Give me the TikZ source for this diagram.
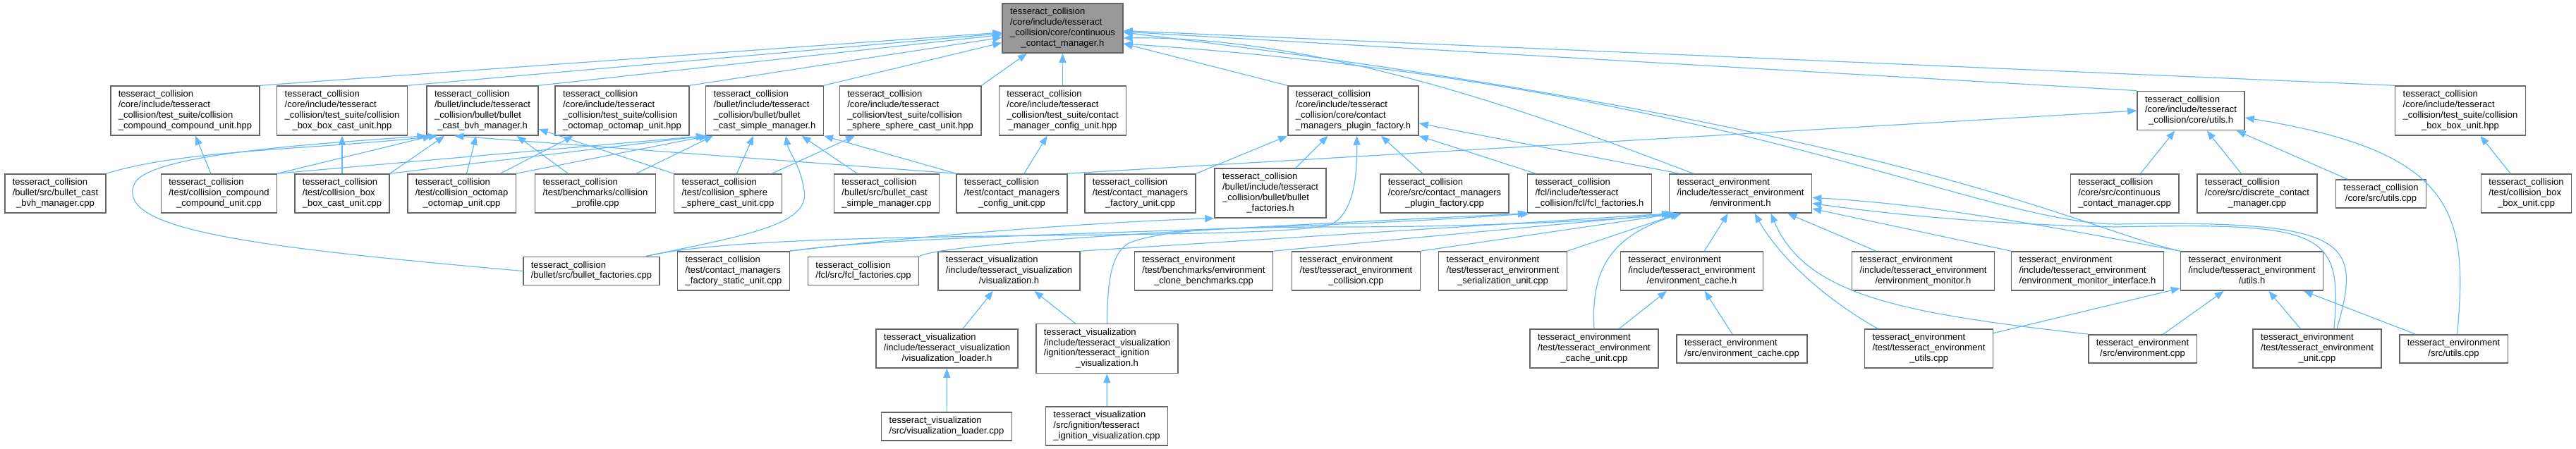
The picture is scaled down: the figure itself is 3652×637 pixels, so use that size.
\documentclass[tikz,border=0pt]{standalone}
\usepackage{fontspec}
\setmainfont{Liberation Sans}
\usetikzlibrary{arrows.meta}
\definecolor{edgeblue}{HTML}{63B8FF}
\definecolor{boxgray}{HTML}{666666}
\definecolor{rootgray}{HTML}{999999}
% file label: lines left aligned, last line centred
\newcommand{\doxlbl}[2]{\begin{tabular}{@{}l@{}}#1\\\multicolumn{1}{@{}c@{}}{#2}\end{tabular}}
\begin{document}
\begin{tikzpicture}[x=1pt,y=-1pt,
  incbox/.style={draw=boxgray,line width=1.5pt,fill=white,inner xsep=11pt,inner ysep=5.4pt,
    font=\fontsize{13}{14.8}\selectfont},
  rootbox/.style={incbox,fill=rootgray},
  incl/.style={draw=edgeblue,line width=1.2pt,-{Triangle[length=13pt,width=10pt]}}]
\useasboundingbox (0,0) rectangle (3652,637);
\node[rootbox] (ccmh) at (1506.5,40) {\doxlbl{tesseract\_collision\\/core/include/tesseract\\\_collision/core/continuous}{\_contact\_manager.h}};
% row 2
\node[incbox] (ccuhpp) at (262.5,157) {\doxlbl{tesseract\_collision\\/core/include/tesseract\\\_collision/test\_suite/collision}{\_compound\_compound\_unit.hpp}};
\node[incbox] (bbcuhpp) at (485,157) {\doxlbl{tesseract\_collision\\/core/include/tesseract\\\_collision/test\_suite/collision}{\_box\_box\_cast\_unit.hpp}};
\node[incbox] (bvhh) at (684,157) {\doxlbl{tesseract\_collision\\/bullet/include/tesseract\\\_collision/bullet/bullet}{\_cast\_bvh\_manager.h}};
\node[incbox] (octohpp) at (882,157) {\doxlbl{tesseract\_collision\\/core/include/tesseract\\\_collision/test\_suite/collision}{\_octomap\_octomap\_unit.hpp}};
\node[incbox] (simpleh) at (1084,157) {\doxlbl{tesseract\_collision\\/bullet/include/tesseract\\\_collision/bullet/bullet}{\_cast\_simple\_manager.h}};
\node[incbox] (spherehpp) at (1290.5,157) {\doxlbl{tesseract\_collision\\/core/include/tesseract\\\_collision/test\_suite/collision}{\_sphere\_sphere\_cast\_unit.hpp}};
\node[incbox] (cfghpp) at (1506.5,157) {\doxlbl{tesseract\_collision\\/core/include/tesseract\\\_collision/test\_suite/contact}{\_manager\_config\_unit.hpp}};
\node[incbox] (pluginh) at (1918.5,157) {\doxlbl{tesseract\_collision\\/core/include/tesseract\\\_collision/core/contact}{\_managers\_plugin\_factory.h}};
\node[incbox] (cutilsh) at (3106,157) {\doxlbl{tesseract\_collision\\/core/include/tesseract}{\_collision/core/utils.h}};
\node[incbox] (bbuhpp) at (3488,157) {\doxlbl{tesseract\_collision\\/core/include/tesseract\\\_collision/test\_suite/collision}{\_box\_box\_unit.hpp}};
% row 3
\node[incbox] (bvhcpp) at (78.5,274.5) {\doxlbl{tesseract\_collision\\/bullet/src/bullet\_cast}{\_bvh\_manager.cpp}};
\node[incbox] (ccucpp) at (310.5,274.5) {\doxlbl{tesseract\_collision\\/test/collision\_compound}{\_compound\_unit.cpp}};
\node[incbox] (bbcucpp) at (485,274.5) {\doxlbl{tesseract\_collision\\/test/collision\_box}{\_box\_cast\_unit.cpp}};
\node[incbox] (octocpp) at (654.5,274.5) {\doxlbl{tesseract\_collision\\/test/collision\_octomap}{\_octomap\_unit.cpp}};
\node[incbox] (profilecpp) at (844,274.5) {\doxlbl{tesseract\_collision\\/test/benchmarks/collision}{\_profile.cpp}};
\node[incbox] (spherecpp) at (1032,274.5) {\doxlbl{tesseract\_collision\\/test/collision\_sphere}{\_sphere\_cast\_unit.cpp}};
\node[incbox] (simplecpp) at (1257,274.5) {\doxlbl{tesseract\_collision\\/bullet/src/bullet\_cast}{\_simple\_manager.cpp}};
\node[incbox] (cfgcpp) at (1434.5,274.5) {\doxlbl{tesseract\_collision\\/test/contact\_managers}{\_config\_unit.cpp}};
\node[incbox] (factorycpp) at (1616.5,274.5) {\doxlbl{tesseract\_collision\\/test/contact\_managers}{\_factory\_unit.cpp}};
\node[incbox] (bfacth) at (1801,274) {\doxlbl{tesseract\_collision\\/bullet/include/tesseract\\\_collision/bullet/bullet}{\_factories.h}};
\node[incbox] (plugincpp) at (2048,274.5) {\doxlbl{tesseract\_collision\\/core/src/contact\_managers}{\_plugin\_factory.cpp}};
\node[incbox] (fclfh) at (2253.5,274.5) {\doxlbl{tesseract\_collision\\/fcl/include/tesseract}{\_collision/fcl/fcl\_factories.h}};
\node[incbox] (envh) at (2467.5,274.5) {\doxlbl{tesseract\_environment\\/include/tesseract\_environment}{/environment.h}};
\node[incbox] (ccmcpp) at (3012,274.5) {\doxlbl{tesseract\_collision\\/core/src/continuous}{\_contact\_manager.cpp}};
\node[incbox] (dcmcpp) at (3200,274.5) {\doxlbl{tesseract\_collision\\/core/src/discrete\_contact}{\_manager.cpp}};
\node[incbox] (cutilscpp) at (3375.5,275) {\doxlbl{tesseract\_collision}{/core/src/utils.cpp}};
\node[incbox] (bbucpp) at (3581.5,274.5) {\doxlbl{tesseract\_collision\\/test/collision\_box}{\_box\_unit.cpp}};
% row 4
\node[incbox] (bfactcpp) at (838.5,384.5) {\doxlbl{tesseract\_collision}{/bullet/src/bullet\_factories.cpp}};
\node[incbox] (staticcpp) at (1040,384.5) {\doxlbl{tesseract\_collision\\/test/contact\_managers}{\_factory\_static\_unit.cpp}};
\node[incbox] (fclfcpp) at (1224,384.5) {\doxlbl{tesseract\_collision}{/fcl/src/fcl\_factories.cpp}};
\node[incbox] (vish) at (1430.5,384.5) {\doxlbl{tesseract\_visualization\\/include/tesseract\_visualization}{/visualization.h}};
\node[incbox] (clonecpp) at (1706.5,384.5) {\doxlbl{tesseract\_environment\\/test/benchmarks/environment}{\_clone\_benchmarks.cpp}};
\node[incbox] (collcpp) at (1922.5,384.5) {\doxlbl{tesseract\_environment\\/test/tesseract\_environment}{\_collision.cpp}};
\node[incbox] (sercpp) at (2130.5,384.5) {\doxlbl{tesseract\_environment\\/test/tesseract\_environment}{\_serialization\_unit.cpp}};
\node[incbox] (cacheh) at (2398.5,384.5) {\doxlbl{tesseract\_environment\\/include/tesseract\_environment}{/environment\_cache.h}};
\node[incbox] (monitorh) at (2726.5,384.5) {\doxlbl{tesseract\_environment\\/include/tesseract\_environment}{/environment\_monitor.h}};
\node[incbox] (monifh) at (2959.5,384.5) {\doxlbl{tesseract\_environment\\/include/tesseract\_environment}{/environment\_monitor\_interface.h}};
\node[incbox] (eutilsh) at (3192.5,384.5) {\doxlbl{tesseract\_environment\\/include/tesseract\_environment}{/utils.h}};
% row 5
\node[incbox] (visloadh) at (1342.5,494.5) {\doxlbl{tesseract\_visualization\\/include/tesseract\_visualization}{/visualization\_loader.h}};
\node[incbox] (ignvish) at (1569.5,494.5) {\doxlbl{tesseract\_visualization\\/include/tesseract\_visualization\\/ignition/tesseract\_ignition}{\_visualization.h}};
\node[incbox] (cacheunitcpp) at (2260,494.5) {\doxlbl{tesseract\_environment\\/test/tesseract\_environment}{\_cache\_unit.cpp}};
\node[incbox] (cachecpp) at (2469.5,495) {\doxlbl{tesseract\_environment}{/src/environment\_cache.cpp}};
\node[incbox] (eutilstestcpp) at (2734.5,494.5) {\doxlbl{tesseract\_environment\\/test/tesseract\_environment}{\_utils.cpp}};
\node[incbox] (envcpp) at (3037.5,495) {\doxlbl{tesseract\_environment}{/src/environment.cpp}};
\node[incbox] (envunitcpp) at (3285,494.5) {\doxlbl{tesseract\_environment\\/test/tesseract\_environment}{\_unit.cpp}};
\node[incbox] (eutilscpp) at (3478.5,495) {\doxlbl{tesseract\_environment}{/src/utils.cpp}};
% row 6
\node[incbox] (visloadcpp) at (1342,605) {\doxlbl{tesseract\_visualization}{/src/visualization\_loader.cpp}};
\node[incbox] (ignviscpp) at (1569,604.5) {\doxlbl{tesseract\_visualization\\/src/ignition/tesseract}{\_ignition\_visualization.cpp}};
% into continuous_contact_manager.h
\draw[incl] (ccuhpp.north east) -- (ccmh);
\draw[incl] (bbcuhpp.north east) -- (ccmh);
\draw[incl] (bvhh.north east) -- (ccmh);
\draw[incl] (octohpp.north east) -- (ccmh);
\draw[incl] (simpleh.north east) -- (ccmh);
\draw[incl] (spherehpp.north east) -- (ccmh);
\draw[incl] (cfghpp) -- (ccmh);
\draw[incl] (pluginh.north west) -- (ccmh);
\draw[incl] ([xshift=35pt]envh.north west) .. controls (2250,190) and (1900,50) .. ([yshift=-14pt]ccmh.east);
\draw[incl] (cutilsh.north west) -- (ccmh);
\draw[incl] (bbuhpp.north west) -- (ccmh);
\draw[incl] (eutilsh.north west) .. controls (2950,325) and (2700,180) .. ([yshift=-6pt]ccmh.east);
\draw[incl] ([xshift=28pt]envunitcpp.north) .. controls (3350,340) and (3330,312) .. (3000,318) .. controls (2800,315) and (2450,120) .. ([yshift=-22pt]ccmh.east);
% core utils and box_box
\draw[incl] (ccmcpp) -- (cutilsh);
\draw[incl] (dcmcpp) -- (cutilsh);
\draw[incl] (cutilscpp) -- (cutilsh);
\draw[incl] (cfgcpp.north east) -- (cutilsh.west);
\draw[incl] ([xshift=5pt]eutilscpp.north) .. controls (3500,300) and (3480,215) .. ([yshift=-10pt]cutilsh.east);
\draw[incl] (bbucpp) -- (bbuhpp);
% collision tests
\draw[incl] (bvhcpp.north east) .. controls (260,212) and (450,212) .. ([xshift=16pt]bvhh.south west);
\draw[incl] (ccucpp) -- (ccuhpp);
\draw[incl] (ccucpp.north east) -- ([xshift=8pt]bvhh.south west);
\draw[incl] (ccucpp.north east) -- (simpleh.south west);
\draw[incl] (bbcucpp) -- (bbcuhpp);
\draw[incl] (bbcucpp.north east) -- ([xshift=26pt]bvhh.south west);
\draw[incl] (bbcucpp.north east) -- (simpleh.south west);
\draw[incl] (octocpp) -- (octohpp);
\draw[incl] (octocpp) -- (bvhh);
\draw[incl] (octocpp.north east) -- ([xshift=4pt]simpleh.south west);
\draw[incl] (profilecpp) -- (bvhh);
\draw[incl] (profilecpp) -- (simpleh);
\draw[incl] (spherecpp) -- (spherehpp);
\draw[incl] (spherecpp.north west) -- (bvhh);
\draw[incl] (spherecpp) -- (simpleh);
\draw[incl] (simplecpp) -- (simpleh);
\draw[incl] (cfgcpp) -- (cfghpp);
\draw[incl] (cfgcpp.north west) -- ([xshift=40pt]bvhh.south west);
\draw[incl] (cfgcpp.north west) -- (simpleh.south east);
% factories
\draw[incl] (bfactcpp.west) .. controls (350,350) and (165,325) .. (190,262) .. controls (205,220) and (430,205) .. (bvhh.south west);
\draw[incl] ([xshift=-20pt]bfactcpp.north east) .. controls (1050,335) and (1150,320) .. (1140,270) .. controls (1135,235) and (1118,215) .. ([xshift=30pt]simpleh.south);
\draw[incl] ([xshift=-20pt]bfactcpp.north east) .. controls (1100,320) and (1800,345) .. (1888,318) .. controls (1922,300) and (1924,240) .. ([xshift=5pt]pluginh.south);
\draw[incl] (staticcpp.north east) .. controls (1300,335) and (1550,315) .. (bfacth.south west);
\draw[incl] (staticcpp.north east) .. controls (1300,330) and (1800,330) .. ([xshift=4pt]fclfh.south west);
\draw[incl] (fclfcpp.north east) .. controls (1340,345) and (1700,325) .. (fclfh.south west);
\draw[incl] (factorycpp.north east) -- (pluginh.south west);
\draw[incl] (bfacth) -- (pluginh);
\draw[incl] (plugincpp) -- (pluginh);
\draw[incl] ([xshift=12pt]fclfh.north west) -- (pluginh.south east);
\draw[incl] ([xshift=15pt]envh.north west) -- ([yshift=-18pt]pluginh.east);
% visualization
\draw[incl] (visloadcpp) -- (visloadh);
\draw[incl] (ignviscpp) -- (ignvish);
\draw[incl] (visloadh) -- (vish);
\draw[incl] (ignvish) -- (vish);
\draw[incl] (vish.north east) -- ([xshift=3pt]envh.south west);
\draw[incl] (ignvish.north) .. controls (1570,400) and (1575,360) .. (1600,345) .. controls (1650,325) and (1750,322) .. (1900,322) .. controls (2100,322) and (2300,312) .. ([xshift=6pt]envh.south west);
% environment
\draw[incl] (clonecpp.north east) -- ([xshift=9pt]envh.south west);
\draw[incl] (collcpp.north east) -- ([xshift=12pt]envh.south west);
\draw[incl] (sercpp.north east) -- ([xshift=15pt]envh.south west);
\draw[incl] (cacheunitcpp.north) .. controls (2255,380) and (2285,335) .. ([xshift=18pt]envh.south west);
\draw[incl] (cacheunitcpp) -- (cacheh);
\draw[incl] (cachecpp) -- (cacheh);
\draw[incl] (cacheh) -- (envh);
\draw[incl] (monitorh) -- (envh);
\draw[incl] (monifh.north west) -- (envh);
\draw[incl] ([xshift=19pt]eutilstestcpp.north west) .. controls (2580,420) and (2520,360) .. ([xshift=20pt]envh.south);
\draw[incl] (eutilstestcpp) -- (eutilsh);
\draw[incl] (envcpp.north west) .. controls (2700,445) and (2560,420) .. ([xshift=43pt]envh.south);
\draw[incl] (envcpp) -- (eutilsh);
\draw[incl] (eutilsh.north west) .. controls (2950,330) and (2750,290) .. ([yshift=-6pt]envh.east);
\draw[incl] ([xshift=24pt]envunitcpp.north) .. controls (3320,330) and (3300,315) .. (3000,322) .. controls (2800,318) and (2650,300) .. ([yshift=-14pt]envh.east);
\draw[incl] (envunitcpp) -- (eutilsh);
\draw[incl] (eutilscpp) -- (eutilsh);
\end{tikzpicture}
\end{document}
